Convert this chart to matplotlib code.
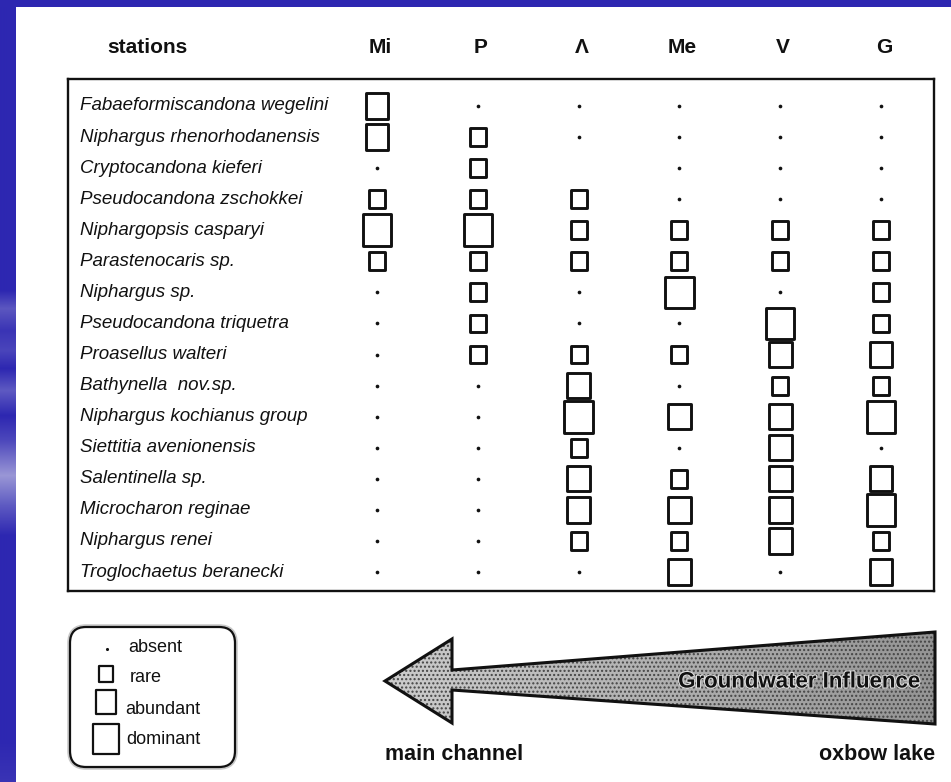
import matplotlib
matplotlib.use("Agg")
import matplotlib.pyplot as plt
import matplotlib.patheffects as pe
import numpy as np
from matplotlib.path import Path
from matplotlib.patches import Polygon, FancyBboxPatch, Rectangle
from matplotlib.colors import to_rgb

plt.rcParams['font.family'] = ['Liberation Sans', 'DejaVu Sans']

stations = ["Mi", "P", "Λ", "Me", "V", "G"]
species = [
    "Fabaeformiscandona wegelini",
    "Niphargus rhenorhodanensis",
    "Cryptocandona kieferi",
    "Pseudocandona zschokkei",
    "Niphargopsis casparyi",
    "Parastenocaris sp.",
    "Niphargus sp.",
    "Pseudocandona triquetra",
    "Proasellus walteri",
    "Bathynella  nov.sp.",
    "Niphargus kochianus group",
    "Siettitia avenionensis",
    "Salentinella sp.",
    "Microcharon reginae",
    "Niphargus renei",
    "Troglochaetus beranecki",
]
# -1 no mark, 0 absent, 1 rare, 2 abundant, 3 dominant
mi = [2, 2, 0, 1, 3, 1, 0, 0, 0, 0, 0, 0, 0, 0, 0, 0]
p = [0, 1, 1, 1, 3, 1, 1, 1, 1, 0, 0, 0, 0, 0, 0, 0]
lam = [0, 0, -1, 1, 1, 1, 0, 0, 1, 2, 3, 1, 2, 2, 1, 0]
me = [0, 0, 0, 0, 1, 1, 3, 0, 1, 0, 2, 0, 1, 2, 1, 2]
v = [0, 0, 0, 0, 1, 1, 0, 3, 2, 1, 2, 2, 2, 2, 2, 0]
g = [0, 0, 0, 0, 1, 1, 1, 1, 2, 1, 3, 0, 2, 3, 1, 2]
levels = ["absent", "rare", "abundant", "dominant"]

columns = [mi, p, lam, me, v, g]
ink = '#111111'
blue = '#2d27b1'

# slightly tall box marker like the scanned squares
box = Path([(-0.45, -0.5), (0.45, -0.5), (0.45, 0.5), (-0.45, 0.5), (-0.45, -0.5)],
           [Path.MOVETO, Path.LINETO, Path.LINETO, Path.LINETO, Path.CLOSEPOLY])
box_size = {1: 165, 2: 330, 3: 520}

fig = plt.figure(figsize=(9.51, 7.82), dpi=100)
fig.patch.set_facecolor('white')

# ---- background / decorations in pixel coordinates
bg = fig.add_axes([0, 0, 1, 1], zorder=0)
bg.set_xlim(0, 951)
bg.set_ylim(782, 0)
bg.axis('off')

stops = [(0, blue), (290, blue), (308, '#5c57c0'), (330, '#3a34b5'), (350, '#4a45bb'),
         (368, blue), (390, '#5e5ac2'), (415, blue), (440, '#4d48bc'), (475, '#9a97d6'),
         (505, '#5e5ac2'), (535, blue), (740, blue), (782, '#3a34b5')]
ys = np.arange(782)
sy = [s[0] for s in stops]
cols = np.array([to_rgb(s[1]) for s in stops])
strip = np.stack([np.interp(ys, sy, cols[:, k]) for k in range(3)], axis=-1)[:, None, :]
bg.imshow(strip, extent=[0, 16, 782, 0], aspect='auto', interpolation='bilinear')
bg.add_patch(Rectangle((0, 0), 951, 7, color=blue, lw=0))

# arrow
arrow_xy = [(385, 681), (452, 639), (452, 670), (935, 632), (935, 724), (452, 690), (452, 723)]
arrow = Polygon(arrow_xy, closed=True, fc='none', ec='none')
bg.add_patch(arrow)
grad = np.linspace(0.8, 0.58, 200)[None, :]
im = bg.imshow(grad, extent=[385, 935, 724, 632], cmap='gray', vmin=0, vmax=1,
               aspect='auto')
im.set_clip_path(arrow)
bg.add_patch(Polygon(arrow_xy, closed=True, fc='none', ec='#444444', lw=0, hatch='....'))
bg.add_patch(Polygon(arrow_xy, closed=True, fc='none', ec=ink, lw=2.2))
bg.text(799, 682, "Groundwater Influence", ha='center', va='center', fontsize=16,
        fontweight='bold', color=ink,
        path_effects=[pe.withStroke(linewidth=1.5, foreground='#e0e0e0')])
bg.text(385, 755, "main channel", ha='left', va='center', fontsize=15.5,
        fontweight='bold', color=ink)
bg.text(935, 755, "oxbow lake", ha='right', va='center', fontsize=15.5,
        fontweight='bold', color=ink)

# legend box
lbox = FancyBboxPatch((70, 627), 165, 140, boxstyle="round,pad=0,rounding_size=16",
                      fc='white', ec=ink, lw=1.6,
                      path_effects=[pe.withStroke(linewidth=4, foreground='#c8c8c8')])
bg.add_patch(lbox)
leg_y = [649, 674, 702, 739]
leg_tx = [128, 130, 125, 126]
leg_ty = [648, 678, 710, 740]
bg.scatter([107], [leg_y[0]], s=5, c=ink, marker='o', linewidths=0)
for k in (1, 2, 3):
    bg.scatter([106], [leg_y[k]], s=box_size[k] * 0.85, marker=box, facecolors='none',
               edgecolors=ink, linewidths=1.6)
for k, lab in enumerate(levels):
    bg.text(leg_tx[k], leg_ty[k], lab, ha='left', va='center', fontsize=13, color=ink)

# ---- the table
ax = fig.add_axes([68 / 951, 1 - 591 / 782, (934 - 68) / 951, (591 - 79) / 782], zorder=1)
ax.set_xlim(-3.065, 5.526)
ax.set_ylim(15.61, -0.869)
ax.set_xticks([])
ax.set_yticks([])
for sp in ax.spines.values():
    sp.set_linewidth(1.7)
    sp.set_color(ink)

xs, yrow, lv = [], [], []
for j, col in enumerate(columns):
    for i, val in enumerate(col):
        xs.append(j)
        yrow.append(i)
        lv.append(val)
xs, yrow, lv = np.array(xs), np.array(yrow), np.array(lv)

m = lv == 0
ax.scatter(xs[m], yrow[m], s=7, c=ink, marker='o', linewidths=0)
for k in (1, 2, 3):
    m = lv == k
    ax.scatter(xs[m], yrow[m], s=box_size[k], marker=box, facecolors='none',
               edgecolors=ink, linewidths=2.1)

for i, name in enumerate(species):
    ax.text(-2.946, i, name, ha='left', va='center', fontsize=13.5, style='italic',
            color=ink)

ax.text(-2.28, -1.867, "stations", ha='center', va='center', fontsize=15,
        fontweight='bold', color=ink, clip_on=False)
for j, st in enumerate(stations):
    ax.text(j + 0.03, -1.867, st, ha='center', va='center', fontsize=15,
            fontweight='bold', color=ink, clip_on=False)

plt.savefig("out.png", dpi=100)
